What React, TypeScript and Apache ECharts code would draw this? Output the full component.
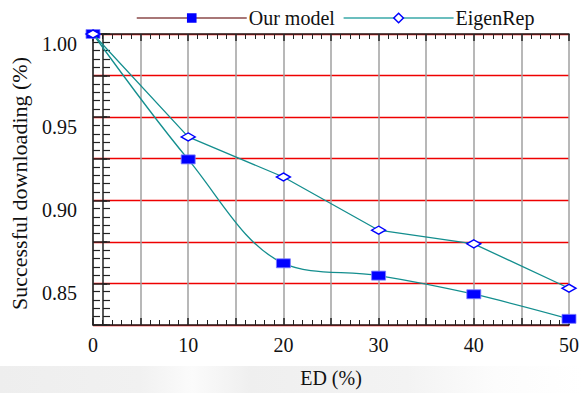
import React, { useEffect, useRef } from "react";
import * as echarts from "echarts";

const xValues = [0, 10, 20, 30, 40, 50];
const ourModel = [1.0, 0.9246, 0.8621, 0.8547, 0.8435, 0.8287];
const eigenRep = [1.0, 0.9381, 0.914, 0.882, 0.8738, 0.8471];
const seriesNames = ["Our model", "EigenRep"];
const xTitle = "ED (%)";
const yTitle = "Successful downloading (%)";

const FONT = "Liberation Serif";

export default function App() {
  const ref = useRef<HTMLDivElement>(null);
  useEffect(() => {
    if (!ref.current) return;
    const chart = echarts.init(ref.current, null, { renderer: "svg" });
    const pairs = (ys: number[]) => xValues.map((x, i) => [x, ys[i]]);
    const option: any = {
      animation: false,
      backgroundColor: "#ffffff",
      textStyle: { fontFamily: FONT },
      graphic: [
        {
          type: "rect",
          silent: true,
          z: -10,
          shape: { x: 0, y: 366, width: 582, height: 27 },
          style: {
            fill: new echarts.graphic.LinearGradient(0, 0, 1, 0, [
              { offset: 0, color: "#eeeeee" },
              { offset: 0.24, color: "#f1f1f1" },
              { offset: 0.33, color: "#fbfbfb" },
              { offset: 0.43, color: "#efefef" },
              { offset: 0.7, color: "#f3f3f3" },
              { offset: 0.85, color: "#fcfcfc" },
              { offset: 1, color: "#ffffff" },
            ]),
          },
        },
      ],
      legend: {
        left: 131,
        top: 3,
        itemWidth: 110,
        itemHeight: 12,
        itemGap: 8,
        textStyle: { fontSize: 20, fontFamily: FONT, color: "#111", padding: [0, 0, 0, -3] },
        data: [
          {
            name: seriesNames[0],
            lineStyle: { color: "#8b4a4a", width: 1.5 },
            itemStyle: { color: "#0000ff", borderWidth: 0 },
          },
          {
            name: seriesNames[1],
            lineStyle: { color: "#3aa9a9", width: 1.5 },
            itemStyle: { color: "#ffffff", borderColor: "#0000ff", borderWidth: 1.5 },
          },
        ],
      },
      grid: { left: 91, right: 3, top: 34, bottom: 66.5 },
      xAxis: [
        {
          type: "value",
          min: 0,
          max: 50,
          interval: 5,
          name: xTitle,
          nameLocation: "middle",
          nameGap: 43,
          nameTextStyle: { fontSize: 20, fontFamily: FONT, color: "#111" },
          axisLine: { show: true, lineStyle: { color: "#222", width: 1.5 } },
          axisTick: { show: true, inside: true, length: 7, lineStyle: { color: "#222", width: 1.5 } },
          minorTick: { show: true, splitNumber: 5, length: 5, lineStyle: { color: "#222", width: 1 } },
          splitLine: { show: true, lineStyle: { color: "#a0a0a0", width: 1.5 } },
          axisLabel: {
            fontSize: 20,
            fontFamily: FONT,
            color: "#111",
            margin: 10,
            formatter: (v: number) => (v % 10 === 0 ? String(v) : ""),
          },
        },
        {
          type: "value",
          position: "top",
          min: 0,
          max: 50,
          interval: 5,
          axisLine: { show: true, lineStyle: { color: "#222", width: 1.5 } },
          axisTick: { show: true, inside: true, length: 7, lineStyle: { color: "#222", width: 1.5 } },
          minorTick: { show: true, splitNumber: 5, length: 5, lineStyle: { color: "#222", width: 1 } },
          splitLine: { show: false },
          axisLabel: { show: false },
        },
      ],
      yAxis: [
        {
          type: "value",
          min: 0.825,
          max: 1.0,
          interval: 0.025,
          name: yTitle,
          nameLocation: "middle",
          nameGap: 63,
          nameTextStyle: { fontSize: 22, fontFamily: FONT, color: "#111", padding: [0, 8, 0, 0] },
          axisLine: { show: true, lineStyle: { color: "#222", width: 1.5 } },
          axisTick: { show: true, inside: true, length: 14, lineStyle: { color: "#222", width: 1.5 } },
          minorTick: { show: true, splitNumber: 5, length: 7, lineStyle: { color: "#222", width: 1.2 } },
          splitLine: { show: true, lineStyle: { color: "#ee0000", width: 1.3 } },
          axisLabel: {
            fontSize: 20,
            fontFamily: FONT,
            color: "#111",
            margin: 16,
            verticalAlign: "top",
            formatter: (v: number) =>
              Math.round(v * 1000) % 50 === 0 ? v.toFixed(2) : "",
          },
        },
        {
          type: "value",
          position: "right",
          offset: -10,
          min: 0.825,
          max: 1.0,
          interval: 0.025,
          axisLine: { show: true, lineStyle: { color: "#222", width: 1.5 } },
          axisTick: { show: true, inside: false, length: 7, lineStyle: { color: "#222", width: 1.5 } },
          minorTick: { show: true, splitNumber: 5, length: 7, lineStyle: { color: "#222", width: 1.2 } },
          splitLine: { show: false },
          axisLabel: { show: false },
        },
      ],
      series: [
        {
          name: seriesNames[0],
          type: "line",
          data: pairs(ourModel),
          smooth: 0.35,
          symbol: "rect",
          symbolSize: [14, 9],
          clip: false,
          lineStyle: { color: "#138e8e", width: 1.3 },
          itemStyle: { color: "#0000ff", borderColor: "#8080ff", borderWidth: 0.8 },
          z: 3,
        },
        {
          name: seriesNames[1],
          type: "line",
          data: pairs(eigenRep),
          smooth: false,
          symbol: "diamond",
          symbolSize: [14, 8],
          clip: false,
          lineStyle: { color: "#138e8e", width: 1.3 },
          itemStyle: { color: "#ffffff", borderColor: "#0000ff", borderWidth: 1.5 },
          z: 4,
        },
      ],
    };
    chart.setOption(option);
    return () => chart.dispose();
  }, []);
  return (
    <div
      ref={ref}
      style={{ position: "fixed", left: 0, top: 0, width: 582, height: 393 }}
    />
  );
}
